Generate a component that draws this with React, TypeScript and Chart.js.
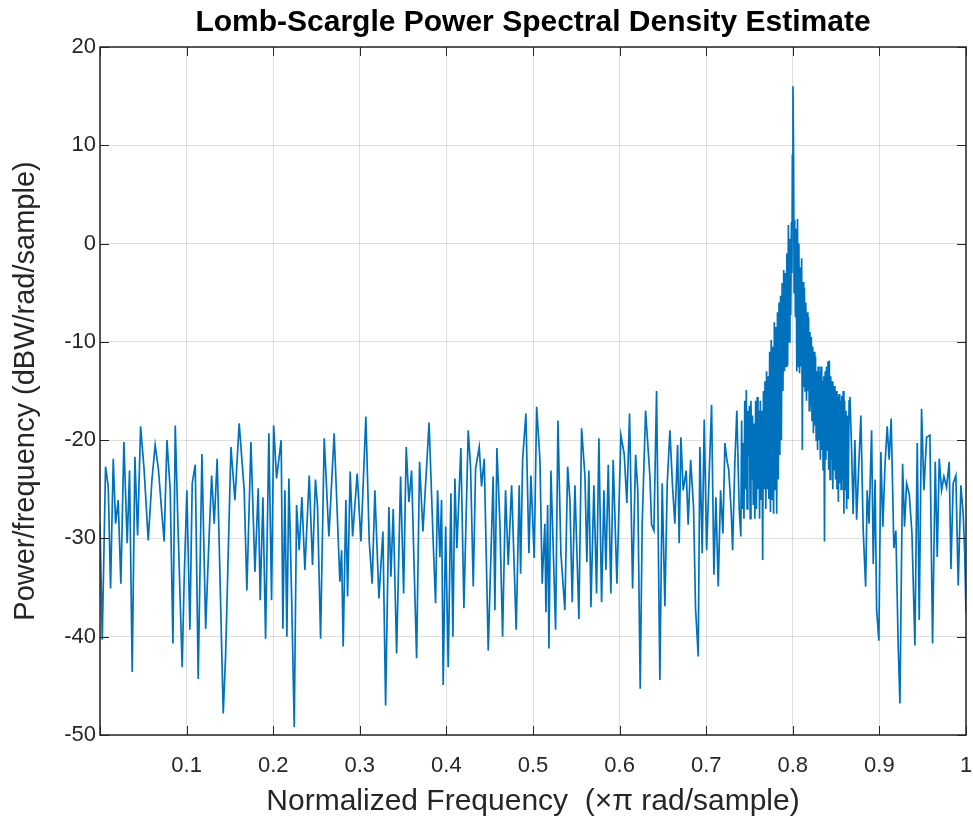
import React, { useEffect, useRef } from "react";
import { Chart, registerables } from "chart.js";

Chart.register(...registerables);

const TITLE = "Lomb-Scargle Power Spectral Density Estimate";
const X_LABEL = "Normalized Frequency  (\u00D7\u03C0 rad/sample)";
const Y_LABEL = "Power/frequency (dBW/rad/sample)";

const X_TICKS = [0.1, 0.2, 0.3, 0.4, 0.5, 0.6, 0.7, 0.8, 0.9, 1];
const X_TICK_LABELS = ["0.1", "0.2", "0.3", "0.4", "0.5", "0.6", "0.7", "0.8", "0.9", "1"];
const Y_TICKS = [-50, -40, -30, -20, -10, 0, 10, 20];

// normalized frequency (x pi rad/sample)
const freq = [
  0.0000, 0.0026, 0.0064, 0.0095, 0.0122, 0.0153, 0.0180, 0.0210, 0.0241, 0.0276,
  0.0314, 0.0341, 0.0372, 0.0403, 0.0434, 0.0469, 0.0510, 0.0557, 0.0600, 0.0637,
  0.0675, 0.0711, 0.0741, 0.0773, 0.0811, 0.0842, 0.0869, 0.0903, 0.0949, 0.0972,
  0.1003, 0.1038, 0.1065, 0.1100, 0.1134, 0.1177, 0.1220,
  0.1258, 0.1289, 0.1319, 0.1353, 0.1423, 0.1450, 0.1473, 0.1512, 0.1558, 0.1607,
  0.1665, 0.1696, 0.1743, 0.1789, 0.1827, 0.1850, 0.1881, 0.1912, 0.1950, 0.1981,
  0.2005, 0.2039, 0.2092, 0.2112, 0.2135, 0.2158, 0.2181, 0.2212, 0.2243, 0.2270,
  0.2300, 0.2331, 0.2366, 0.2416, 0.2454, 0.2488,
  0.2512, 0.2547, 0.2589, 0.2643, 0.2704, 0.2770, 0.2790, 0.2808, 0.2839, 0.2859,
  0.2889, 0.2917, 0.2970, 0.3013, 0.3070, 0.3109, 0.3143, 0.3174, 0.3221, 0.3267,
  0.3298, 0.3336, 0.3359, 0.3386, 0.3425, 0.3471, 0.3506, 0.3536, 0.3567, 0.3598,
  0.3628, 0.3656, 0.3690, 0.3729, 0.3800,
  0.3848, 0.3875, 0.3898, 0.3925, 0.3944, 0.3963, 0.3991, 0.4021, 0.4052, 0.4075,
  0.4098, 0.4121, 0.4167, 0.4202, 0.4252, 0.4279, 0.4310, 0.4337, 0.4379, 0.4406,
  0.4437, 0.4483, 0.4540, 0.4560, 0.4583, 0.4618, 0.4649, 0.4683, 0.4714, 0.4753,
  0.4806, 0.4841, 0.4857, 0.4880, 0.4918, 0.4953, 0.4976, 0.5014, 0.5042,
  0.5080, 0.5106, 0.5137, 0.5149, 0.5169, 0.5184, 0.5207, 0.5261, 0.5288, 0.5322,
  0.5368, 0.5400, 0.5426, 0.5453, 0.5484, 0.5530, 0.5561, 0.5600, 0.5622, 0.5645,
  0.5669, 0.5703, 0.5734, 0.5761, 0.5792, 0.5819, 0.5842, 0.5869, 0.5899, 0.5926,
  0.5969, 0.6015, 0.6053, 0.6084, 0.6115, 0.6150, 0.6185, 0.6210, 0.6238, 0.6261,
  0.6300,
  0.6350, 0.6369, 0.6396, 0.6427, 0.6465, 0.6492, 0.6523, 0.6550, 0.6581, 0.6610,
  0.6638, 0.6670, 0.6688, 0.6708, 0.6734, 0.6769, 0.6792, 0.6820, 0.6854, 0.6877,
  0.6908, 0.6927, 0.6954, 0.6977, 0.7005, 0.7031, 0.7062, 0.7089, 0.7112, 0.7139,
  0.7166, 0.7193, 0.7216, 0.7239, 0.7260, 0.7289, 0.7305, 0.7331, 0.7354, 0.7381,
  0.7400, 0.7409, 0.7418, 0.7427, 0.7436, 0.7445, 0.7454, 0.7463, 0.7472, 0.7481,
  0.7490, 0.7499, 0.7508, 0.7517, 0.7526, 0.7535, 0.7544, 0.7553, 0.7562, 0.7571,
  0.7580, 0.7589, 0.7598, 0.7607, 0.7616, 0.7625, 0.7634, 0.7643, 0.7652, 0.7661,
  0.7670, 0.7679, 0.7688, 0.7697, 0.7706, 0.7715, 0.7724, 0.7733, 0.7742, 0.7751,
  0.7760, 0.7769, 0.7778, 0.7787, 0.7796, 0.7805, 0.7814, 0.7823, 0.7832, 0.7841,
  0.7850, 0.7859, 0.7868, 0.7877, 0.7886, 0.7895, 0.7904, 0.7913, 0.7922, 0.7931,
  0.7940, 0.7949, 0.7958, 0.7967, 0.7976, 0.7984, 0.7990, 0.7995, 0.8002, 0.8009,
  0.8015, 0.8022, 0.8030, 0.8038, 0.8046, 0.8054, 0.8062, 0.8070, 0.8078, 0.8086,
  0.8094, 0.8102, 0.8110, 0.8118, 0.8126, 0.8134, 0.8142, 0.8150, 0.8158, 0.8166,
  0.8174, 0.8182, 0.8190, 0.8198, 0.8206, 0.8214, 0.8222, 0.8230, 0.8238, 0.8246,
  0.8254, 0.8262, 0.8270, 0.8278, 0.8286, 0.8294, 0.8302, 0.8310, 0.8318, 0.8326,
  0.8334, 0.8342, 0.8350, 0.8358, 0.8366, 0.8374, 0.8382, 0.8390, 0.8398, 0.8406,
  0.8414, 0.8422, 0.8430, 0.8438, 0.8446, 0.8454, 0.8462, 0.8470, 0.8478, 0.8486,
  0.8494, 0.8502, 0.8510, 0.8518, 0.8526, 0.8534, 0.8542, 0.8550, 0.8558, 0.8566,
  0.8574, 0.8582, 0.8590, 0.8598, 0.8606, 0.8614, 0.8622, 0.8630, 0.8640, 0.8650,
  0.8660, 0.8679, 0.8697, 0.8717, 0.8737, 0.8760, 0.8786, 0.8813, 0.8841, 0.8859,
  0.8880, 0.8910, 0.8929, 0.8950, 0.8968, 0.8994, 0.9017, 0.9040, 0.9065, 0.9090,
  0.9113, 0.9136, 0.9167, 0.9190, 0.9217, 0.9237, 0.9268, 0.9290, 0.9314, 0.9345,
  0.9376, 0.9410, 0.9437, 0.9460, 0.9487, 0.9514, 0.9545, 0.9583, 0.9614, 0.9645,
  0.9668, 0.9691, 0.9718, 0.9745, 0.9775, 0.9806, 0.9826, 0.9852, 0.9883, 0.9910,
  0.9941, 0.9968, 0.9985, 1.0000,
];

// power/frequency (dBW/rad/sample)
const psd = [
  -28.5, -40.3, -22.7, -24.7, -35.1, -21.9, -28.5, -26.1, -34.6, -20.2,
  -30.5, -23.1, -43.6, -21.7, -29.7, -18.6, -23.1, -30.2, -24.0, -20.5,
  -23.0, -27.1, -30.3, -20.0, -25.1, -40.7, -18.5, -29.5, -43.1, -34.2,
  -25.1, -39.3, -24.4, -22.5, -44.3, -21.4, -39.2,
  -30.2, -23.6, -28.5, -21.9, -47.8, -42.0, -34.2, -20.7, -26.1, -18.3,
  -25.1, -35.3, -20.2, -33.4, -24.9, -36.3, -25.8, -40.2, -19.3, -36.3,
  -18.5, -23.9, -20.0, -39.2, -25.1, -40.0, -23.9, -35.6, -49.2, -26.6,
  -31.2, -25.8, -33.2, -23.6, -32.7, -24.0,
  -26.8, -40.2, -19.8, -29.8, -19.3, -34.4, -31.2, -41.0, -26.1, -35.9,
  -23.2, -29.8, -23.4, -30.3, -17.6, -30.3, -34.6, -25.1, -36.1, -29.3,
  -47.0, -26.8, -33.9, -27.0, -41.7, -23.7, -35.6, -20.7, -26.3, -23.1,
  -33.1, -42.2, -22.2, -29.3, -18.2,
  -30.5, -36.6, -25.1, -31.9, -26.1, -44.9, -28.8, -43.1, -25.4, -40.0,
  -23.9, -31.0, -20.8, -37.1, -19.0, -22.7, -34.9, -22.9, -20.7, -24.7,
  -21.9, -41.4, -23.7, -37.3, -20.8, -28.5, -40.0, -25.1, -32.7, -24.6,
  -39.3, -24.6, -33.6, -22.0, -17.3, -31.5, -23.6, -32.0, -16.6,
  -22.0, -34.6, -28.5, -37.5, -26.6, -41.2, -23.1, -39.3, -18.0, -31.5,
  -37.3, -22.7, -26.1, -36.5, -24.6, -38.2, -18.8, -23.7, -32.4, -23.1,
  -37.0, -24.6, -35.6, -19.8, -36.5, -25.1, -33.2, -22.5, -35.6, -22.0,
  -34.6, -19.5, -21.4, -26.4, -17.3, -35.1, -21.5, -25.1, -45.3, -28.5,
  -17.0,
  -23.7, -28.6, -29.2, -15.0, -44.4, -24.4, -36.9, -24.4, -19.0, -24.5,
  -28.5, -20.5, -30.5, -19.7, -25.1, -23.1, -28.6, -22.0, -26.8, -37.1,
  -42.0, -20.7, -31.5, -17.9, -31.2, -24.4, -16.4, -33.7, -25.8, -34.9,
  -25.1, -29.5, -20.3, -22.0, -23.0, -27.3, -31.2, -22.2, -17.0, -27.0,
  -29.8, -18.0, -27.0, -20.3, -28.0, -16.0, -25.0, -14.9, -27.0, -17.0,
  -21.7, -16.5, -28.0, -16.0, -24.0, -17.5, -26.6, -18.3, -28.0, -16.0,
  -27.0, -15.6, -25.0, -17.0, -28.0, -16.0, -26.0, -17.0, -32.2, -15.0,
  -25.0, -14.0, -27.0, -13.0, -25.0, -13.5, -26.0, -11.0, -27.3, -9.8,
  -26.0, -10.5, -27.5, -8.0, -25.0, -8.5, -27.5, -7.0, -24.0, -6.0,
  -21.5, -5.3, -20.0, -4.0, -15.0, -2.7, -13.0, -3.0, -12.5, -1.0,
  -12.4, 1.9, -10.0, 0.5, -7.3, 2.2, -3.0, 9.0, 16.0, 9.0,
  -5.0, 2.4, -7.5, 1.5, -13.0, 2.5, -12.5, 0.0, -13.2, -2.4,
  -12.5, -1.5, -21.0, -3.9, -14.6, -4.5, -15.0, -6.0, -16.0, -7.0,
  -15.0, -7.5, -17.0, -9.0, -16.5, -9.5, -18.0, -10.5, -19.3, -11.0,
  -18.5, -11.5, -20.0, -13.0, -21.0, -12.5, -20.0, -13.0, -22.0, -12.5,
  -21.0, -14.0, -23.0, -13.5, -30.3, -13.0, -22.0, -12.5, -21.0, -12.0,
  -23.0, -11.9, -24.0, -13.5, -22.0, -14.0, -25.0, -14.5, -23.0, -14.5,
  -24.0, -15.0, -25.0, -15.5, -26.3, -15.3, -24.4, -16.0, -25.0, -15.5,
  -24.0, -15.0, -27.5, -16.0, -25.0, -17.0, -27.0, -17.5, -26.0, -16.0,
  -15.6, -21.0, -27.5, -20.0, -28.1, -23.0, -17.5, -29.2, -34.9, -25.1,
  -28.5, -19.0, -32.6, -24.0, -37.3, -40.4, -21.2, -28.8, -22.5, -18.6,
  -22.0, -17.8, -31.0, -29.2, -40.9, -46.8, -22.4, -28.8, -24.4, -25.5,
  -29.5, -40.9, -20.3, -38.3, -16.8, -25.1, -19.7, -19.5, -40.7, -22.2,
  -31.9, -21.9, -25.1, -23.7, -24.8, -22.2, -33.1, -24.4, -23.6, -34.8,
  -24.6, -27.6, -31.5, -37.6,
];

const FONT = '"Liberation Sans", Arial, Helvetica, sans-serif';
const AXIS_COLOR = "#262626";

const framePlugin = {
  id: "matlabFrame",
  afterDraw(chart: any) {
    const { ctx, chartArea: a, scales } = chart;
    ctx.save();
    ctx.strokeStyle = AXIS_COLOR;
    ctx.lineWidth = 1;
    const tl = 9;
    ctx.beginPath();
    scales.x.ticks.forEach((t: any) => {
      const px = Math.round(scales.x.getPixelForValue(t.value)) + 0.5;
      ctx.moveTo(px, a.bottom);
      ctx.lineTo(px, a.bottom - tl);
      ctx.moveTo(px, a.top);
      ctx.lineTo(px, a.top + tl);
    });
    scales.y.ticks.forEach((t: any) => {
      const py = Math.round(scales.y.getPixelForValue(t.value)) + 0.5;
      ctx.moveTo(a.left, py);
      ctx.lineTo(a.left + tl, py);
      ctx.moveTo(a.right, py);
      ctx.lineTo(a.right - tl, py);
    });
    ctx.stroke();
    ctx.lineWidth = 1.5;
    ctx.strokeRect(a.left, a.top, a.right - a.left, a.bottom - a.top);

    // x tick labels
    ctx.fillStyle = AXIS_COLOR;
    ctx.font = `22px ${FONT}`;
    ctx.textAlign = "center";
    ctx.textBaseline = "middle";
    X_TICKS.forEach((v, i) => {
      ctx.fillText(X_TICK_LABELS[i], scales.x.getPixelForValue(v), a.bottom + 31);
    });

    const cx = (a.left + a.right) / 2;
    ctx.fillStyle = "#000000";
    ctx.font = `bold 30px ${FONT}`;
    ctx.fillText(TITLE, cx, 23);

    ctx.fillStyle = AXIS_COLOR;
    ctx.font = `30px ${FONT}`;
    ctx.fillText(X_LABEL, cx, 802);

    ctx.font = `29px ${FONT}`;
    ctx.translate(26, (a.top + a.bottom) / 2);
    ctx.rotate(-Math.PI / 2);
    ctx.fillText(Y_LABEL, 0, 0);
    ctx.restore();
  },
};

export default function App() {
  const ref = useRef<HTMLCanvasElement | null>(null);

  useEffect(() => {
    if (!ref.current) return;
    const points = freq.map((f, i) => ({ x: f, y: psd[i] }));
    const chart = new Chart(ref.current, {
      type: "line",
      data: {
        datasets: [
          {
            data: points,
            borderColor: "#0072BD",
            borderWidth: 1.7,
            pointRadius: 0,
            tension: 0,
            fill: false,
          },
        ],
      },
      options: {
        animation: false,
        responsive: false,
        devicePixelRatio: 1,
        parsing: false,
        layout: { padding: { top: 47, right: 7, left: 0, bottom: 0 } },
        plugins: {
          legend: { display: false },
          tooltip: { enabled: false },
          title: { display: false },
        },
        scales: {
          x: {
            type: "linear",
            min: 0,
            max: 1,
            afterFit: (s: any) => {
              s.height = 85;
            },
            afterBuildTicks: (s: any) => {
              s.ticks = [0, ...X_TICKS].map((v) => ({ value: v }));
            },
            ticks: { display: false },
            grid: { color: "rgba(38,38,38,0.15)", lineWidth: 1, drawTicks: false },
            border: { display: false },
          },
          y: {
            type: "linear",
            min: -50,
            max: 20,
            afterFit: (s: any) => {
              s.width = 100;
            },
            afterBuildTicks: (s: any) => {
              s.ticks = Y_TICKS.map((v) => ({ value: v }));
            },
            ticks: {
              font: { family: FONT, size: 22 },
              color: AXIS_COLOR,
              padding: 4,
              autoSkip: false,
              callback: (v: any) => String(v),
            },
            grid: { color: "rgba(38,38,38,0.15)", lineWidth: 1, drawTicks: false },
            border: { display: false },
          },
        },
      },
      plugins: [framePlugin],
    });
    return () => chart.destroy();
  }, []);

  return (
    <div style={{ position: "absolute", left: 0, top: 0, width: 973, height: 820, background: "#fff" }}>
      <canvas ref={ref} width={973} height={820} style={{ display: "block" }} />
    </div>
  );
}
